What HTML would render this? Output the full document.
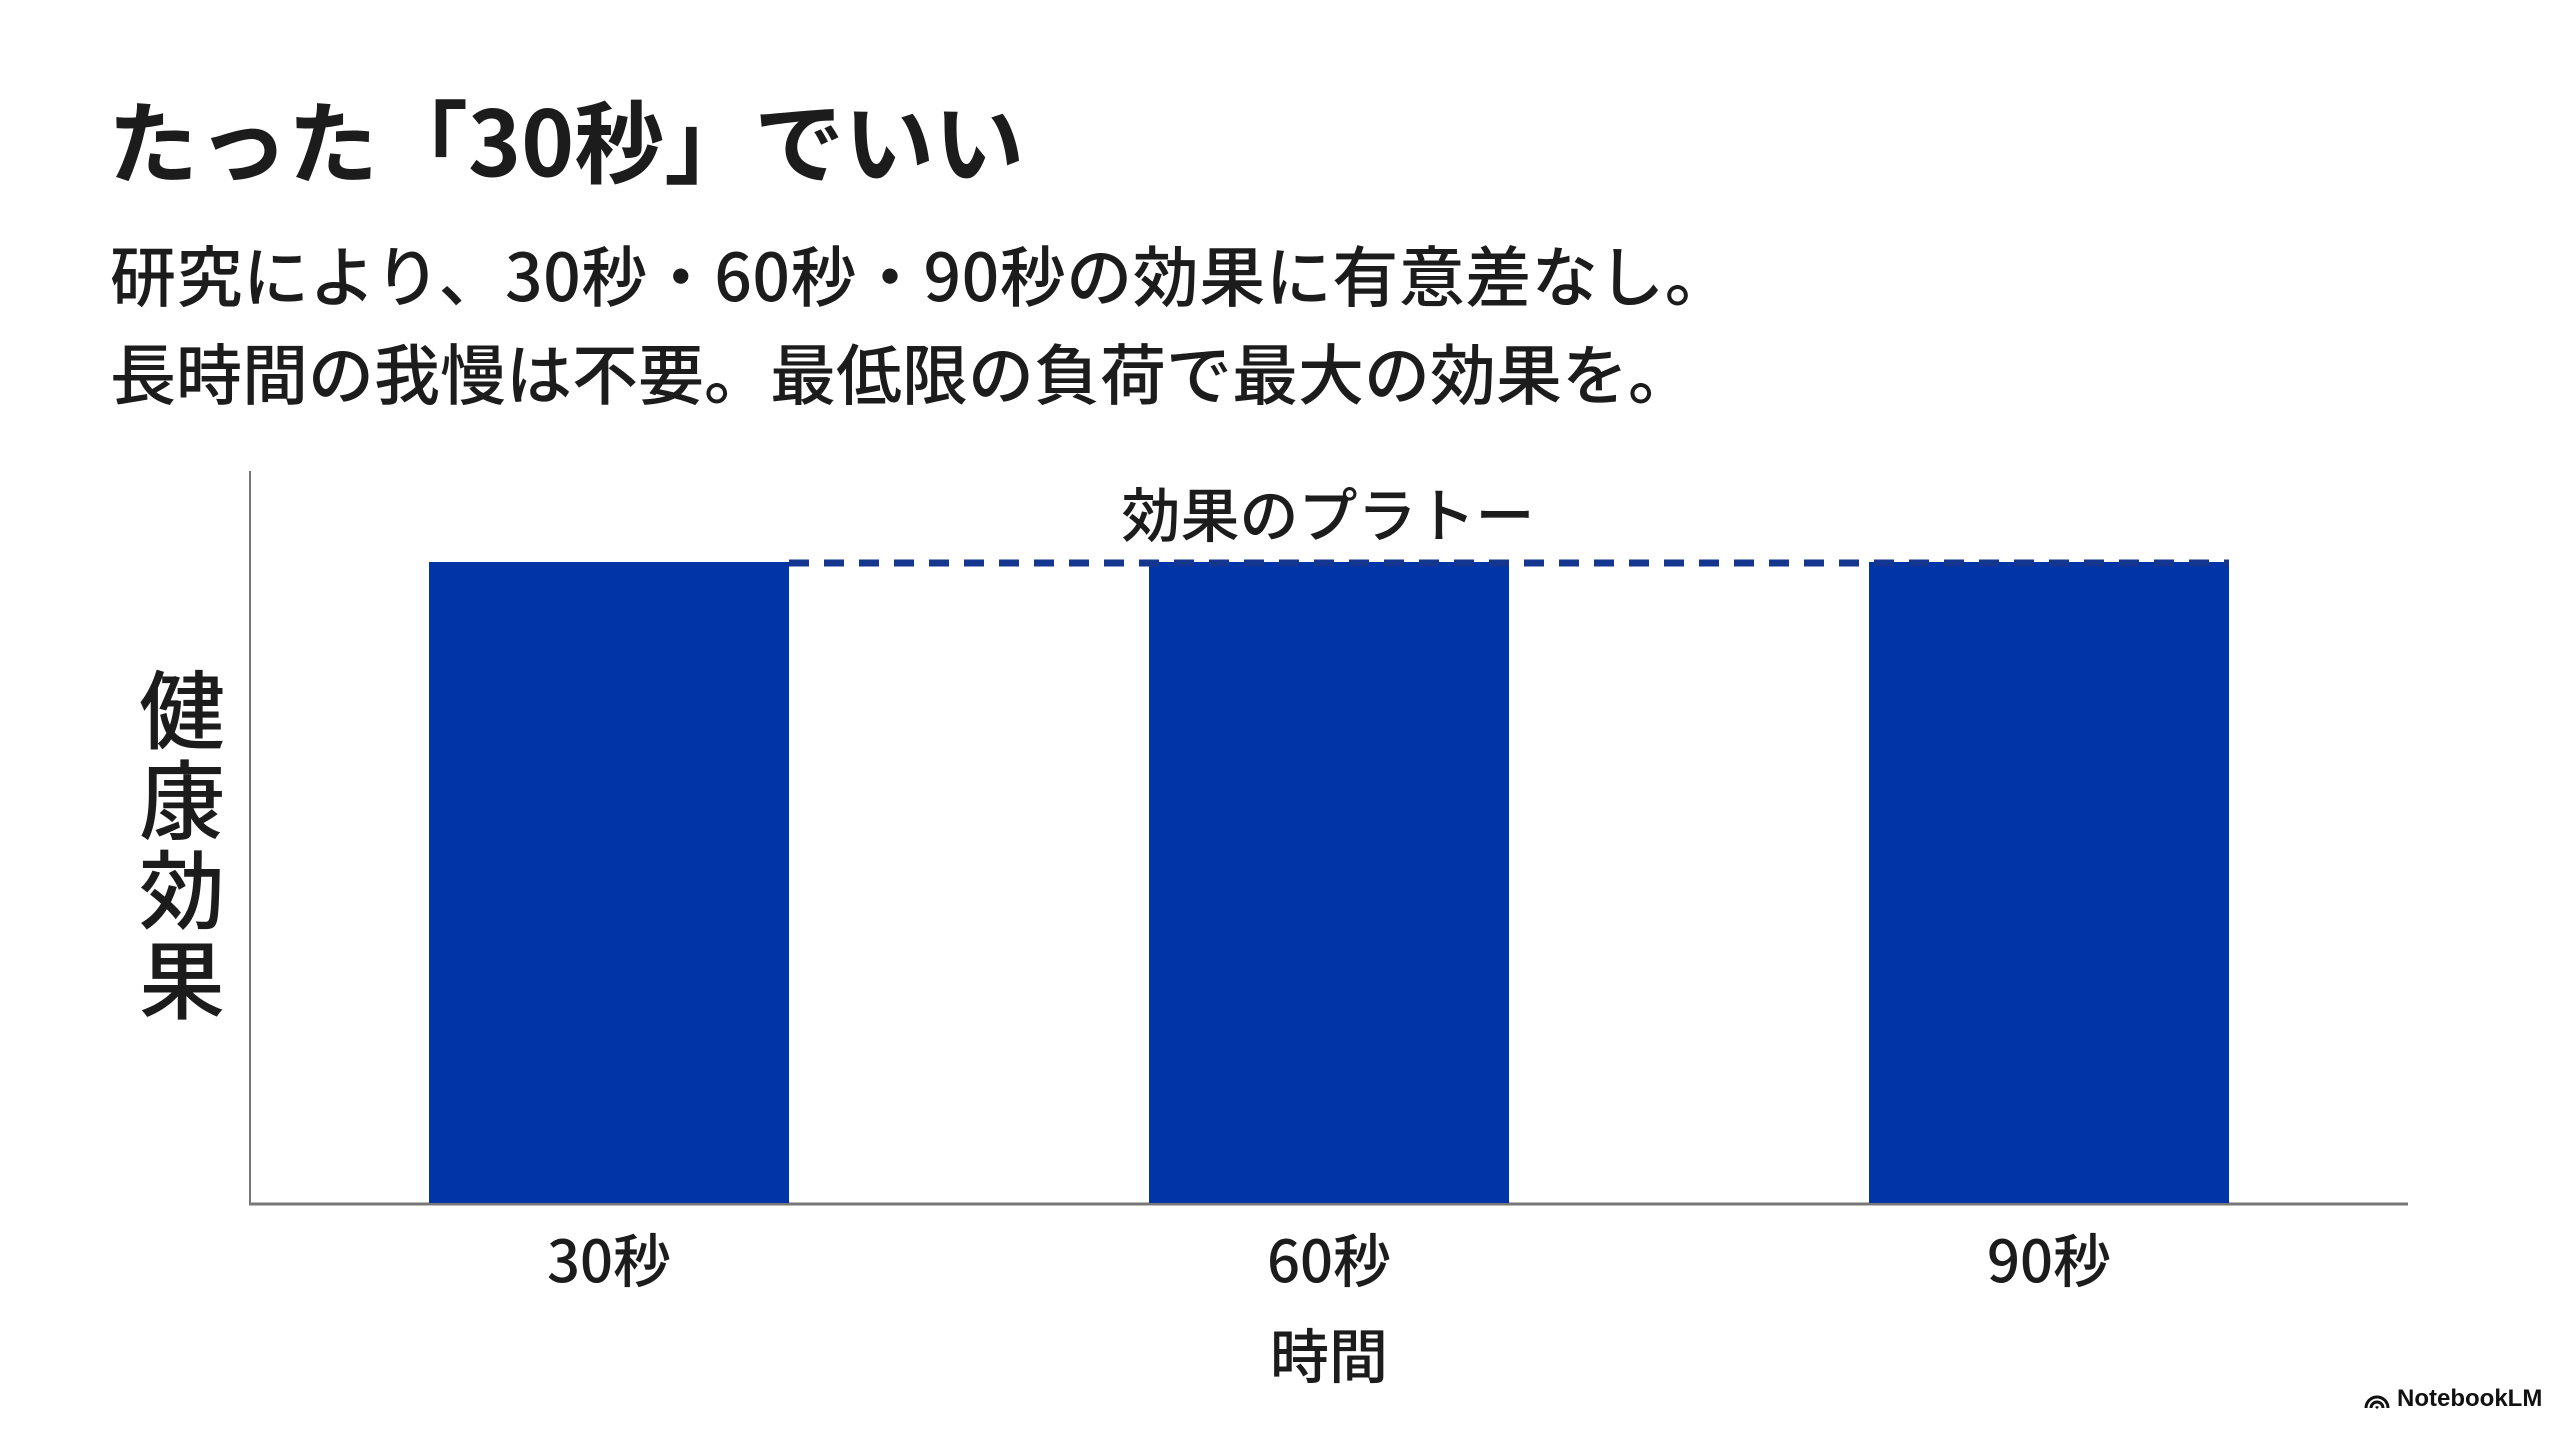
<!DOCTYPE html>
<html><head><meta charset="utf-8"><style>
body{margin:0;width:2560px;height:1429px;background:#fff;position:relative;overflow:hidden;font-family:"Liberation Sans","Noto Sans CJK JP",sans-serif;color:#1c1c1c}
.t{position:absolute;white-space:nowrap;line-height:1;font-family:'Noto Sans CJK JP',sans-serif;font-weight:500}
</style></head><body>
<div class="t" style="left:108px;top:92px;font-size:90px;font-weight:bold;">たった「30秒」でいい</div>
<div class="t" style="left:110px;top:240px;font-size:66px;letter-spacing:0.5px;">研究により、30秒・60秒・90秒の効果に有意差なし。</div>
<div class="t" style="left:110px;top:338px;font-size:66px;">長時間の我慢は不要。最低限の負荷で最大の効果を。</div>
<svg width="2560" height="1429" style="position:absolute;left:0;top:0">
<line x1="250" y1="471" x2="250" y2="1205" stroke="#777" stroke-width="2"/>
<line x1="249" y1="1204" x2="2408" y2="1204" stroke="#777" stroke-width="3"/>
<rect x="429" y="562" width="360" height="641" fill="#0034a7"/>
<rect x="1149" y="562" width="360" height="641" fill="#0034a7"/>
<rect x="1869" y="562" width="360" height="641" fill="#0034a7"/>
<line x1="789" y1="563" x2="2229" y2="563" stroke="#14368f" stroke-width="7" stroke-dasharray="20 15"/>
</svg>
<div class="t" style="left:1328px;top:482px;transform:translateX(-50%);font-size:59px;">効果のプラトー</div>
<div class="t" style="left:136px;top:660px;font-size:86px;width:92px;line-height:90px;white-space:normal;text-align:center;">健<br>康<br>効<br>果</div>
<div class="t" style="left:609px;top:1228px;transform:translateX(-50%);font-size:58px;">30秒</div>
<div class="t" style="left:1329px;top:1228px;transform:translateX(-50%);font-size:58px;">60秒</div>
<div class="t" style="left:2049px;top:1228px;transform:translateX(-50%);font-size:58px;">90秒</div>
<div class="t" style="left:1329px;top:1323px;transform:translateX(-50%);font-size:59px;">時間</div>
<svg width="28" height="20" style="position:absolute;left:2363px;top:1390px" viewBox="0 0 28 20"><path d="M3 18 A11 11 0 0 1 25 18 M8 18 A6 6 0 0 1 20 18 M13 18 A1.5 1.5 0 0 1 15 18" fill="none" stroke="#111" stroke-width="3"/></svg>
<div class="t" style="left:2397px;top:1387px;font-size:24px;font-weight:bold;color:#111;font-family:'Liberation Sans',sans-serif;">NotebookLM</div>
</body></html>
